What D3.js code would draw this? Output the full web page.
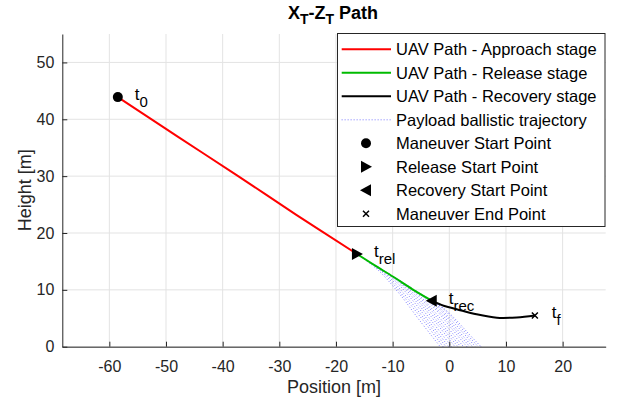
<!DOCTYPE html>
<html>
<head>
<meta charset="utf-8">
<script src="https://cdn.jsdelivr.net/npm/d3@7"></script>
<style>
	body { margin: 0; background: #fff; }
	svg { display: block; font-family: "Liberation Sans", Arial, Helvetica, sans-serif; }
</style>
</head>
<body>
<svg id="chart" width="625" height="406"></svg>
<script>
// path segments, [x, z] in metres
var approachPath = [[-58.5, 43.9], [-48, 37.0], [-37.4, 30.1], [-27, 23.2], [-16.3, 16.3]];
var releasePath = [[-16.3, 16.3], [-13, 14.2], [-9.9, 12.3], [-6.5, 10.1], [-3.1, 8.1]];
var recoveryPath = [[-3.1, 8.1], [-1, 7.2], [1.3, 6.6], [4.8, 5.7], [8.4, 5.1], [11.9, 5.15], [15.1, 5.5]];

// payload ballistic trajectories, one per release instant
var payloadPaths = [
	[[-16.3, 16.3], [-12.5, 13.4], [-8.8, 9.3], [-5.3, 4.7], [-1.6, 0]],
	[[-15.3, 15.7], [-11.6, 12.9], [-8.1, 8.9], [-4.6, 4.6], [-1.1, 0]],
	[[-14.4, 15.1], [-10.8, 12.4], [-7.4, 8.6], [-4.0, 4.4], [-0.6, 0]],
	[[-13.4, 14.5], [-9.9, 11.9], [-6.6, 8.3], [-3.4, 4.2], [-0.1, 0]],
	[[-12.5, 14.0], [-9.1, 11.5], [-5.9, 8.0], [-2.8, 4.1], [0.4, 0]],
	[[-11.5, 13.4], [-8.3, 11.0], [-5.1, 7.6], [-2.1, 3.9], [1.0, 0]],
	[[-10.6, 12.8], [-7.5, 10.5], [-4.4, 7.3], [-1.5, 3.7], [1.5, 0]],
	[[-9.6, 12.2], [-6.6, 10.0], [-3.7, 7.0], [-0.9, 3.5], [2.0, 0]],
	[[-8.7, 11.6], [-5.8, 9.5], [-3.0, 6.6], [-0.3, 3.4], [2.5, 0]],
	[[-7.7, 11.0], [-4.9, 9.0], [-2.2, 6.3], [0.4, 3.2], [3.1, 0]],
	[[-6.8, 10.4], [-4.1, 8.5], [-1.5, 5.9], [1.0, 3.0], [3.6, 0]],
	[[-5.8, 9.8], [-3.2, 8.0], [-0.8, 5.6], [1.6, 2.8], [4.1, 0]],
	[[-4.9, 9.2], [-2.4, 7.5], [-0.1, 5.2], [2.2, 2.7], [4.6, 0]],
	[[-4.0, 8.7], [-1.6, 7.1], [0.6, 5.0], [2.8, 2.5], [5.1, 0]],
	[[-3.1, 8.1], [-0.8, 6.6], [1.3, 4.6], [3.4, 2.3], [5.6, 0]]
];

var startPoint = [-58.5, 43.9];
var releasePoint = [-16.3, 16.3];
var recoveryPoint = [-3.1, 8.1];
var endPoint = [15.1, 5.5];

var pointLabels = [
	{main: 't', sub: '0', at: startPoint},
	{main: 't', sub: 'rel', at: releasePoint},
	{main: 't', sub: 'rec', at: recoveryPoint},
	{main: 't', sub: 'f', at: endPoint}
];

var xTicks = [-60, -50, -40, -30, -20, -10, 0, 10, 20];
var yTicks = [0, 10, 20, 30, 40, 50];
var xDomain = [-68.3, 27.6];
var yDomain = [0, 55];

var legendItems = [
	{label: 'UAV Path - Approach stage', kind: 'line', color: '#ff0000'},
	{label: 'UAV Path - Release stage', kind: 'line', color: '#00bb00'},
	{label: 'UAV Path - Recovery stage', kind: 'line', color: '#000000'},
	{label: 'Payload ballistic trajectory', kind: 'dots', color: '#3333ff'},
	{label: 'Maneuver Start Point', kind: 'circle'},
	{label: 'Release Start Point', kind: 'right'},
	{label: 'Recovery Start Point', kind: 'left'},
	{label: 'Maneuver End Point', kind: 'cross'}
];

var svg = d3.select('#chart');
var axisColor = '#262626';
var plot = {left: 62.3, right: 605.7, top: 34, bottom: 346.7};

var x = d3.scaleLinear().domain(xDomain).range([plot.left, plot.right]);
var y = d3.scaleLinear().domain(yDomain).range([plot.bottom, plot.top]);

// grid
var grid = svg.append('g').attr('stroke', '#e3e3e3').attr('stroke-width', 1);
grid.selectAll('.gx').data(xTicks).enter().append('line')
	.attr('x1', function(d) {return x(d)}).attr('x2', function(d) {return x(d)})
	.attr('y1', plot.top).attr('y2', plot.bottom);
grid.selectAll('.gy').data(yTicks).enter().append('line')
	.attr('y1', function(d) {return y(d)}).attr('y2', function(d) {return y(d)})
	.attr('x1', plot.left).attr('x2', plot.right);

var line = d3.line()
	.x(function(d) {return x(d[0])})
	.y(function(d) {return y(d[1])})
	.curve(d3.curveCatmullRom);

// payload trajectories
svg.append('g').selectAll('path').data(payloadPaths).enter().append('path')
	.attr('d', line)
	.attr('fill', 'none')
	.attr('stroke', '#3333ff')
	.attr('stroke-width', 0.8)
	.attr('stroke-dasharray', '0.8,2.2');

function drawPath(data, color) {
	svg.append('path').datum(data)
		.attr('d', line)
		.attr('fill', 'none')
		.attr('stroke', color)
		.attr('stroke-width', 2);
}
drawPath(approachPath, '#ff0000');
drawPath(releasePath, '#00bb00');
drawPath(recoveryPath, '#000000');

// markers
function marker(g, kind, cx, cy) {
	if (kind === 'circle') {
		g.append('circle').attr('cx', cx).attr('cy', cy).attr('r', 5).attr('fill', '#000');
	} else if (kind === 'right') {
		g.append('path').attr('d', 'M' + (cx - 5) + ',' + (cy - 6) + 'L' + (cx + 6) + ',' + cy + 'L' + (cx - 5) + ',' + (cy + 6) + 'Z').attr('fill', '#000');
	} else if (kind === 'left') {
		g.append('path').attr('d', 'M' + (cx + 5) + ',' + (cy - 6) + 'L' + (cx - 6) + ',' + cy + 'L' + (cx + 5) + ',' + (cy + 6) + 'Z').attr('fill', '#000');
	} else if (kind === 'cross') {
		g.append('path').attr('d', 'M' + (cx - 3) + ',' + (cy - 3) + 'L' + (cx + 3) + ',' + (cy + 3) + 'M' + (cx - 3) + ',' + (cy + 3) + 'L' + (cx + 3) + ',' + (cy - 3))
			.attr('stroke', '#000').attr('stroke-width', 1.5);
	}
}
var marks = svg.append('g');
marker(marks, 'circle', x(startPoint[0]), y(startPoint[1]));
marker(marks, 'right', x(releasePoint[0]), y(releasePoint[1]));
marker(marks, 'left', x(recoveryPoint[0]), y(recoveryPoint[1]));
marker(marks, 'cross', x(endPoint[0]), y(endPoint[1]));

// t labels
var lbl = svg.append('g').selectAll('text').data(pointLabels).enter().append('text')
	.attr('x', function(d) {return x(d.at[0] + 3)})
	.attr('y', function(d) {return y(d.at[1]) + 3})
	.attr('font-size', 17)
	.attr('fill', '#000');
lbl.append('tspan').text(function(d) {return d.main});
lbl.append('tspan').attr('dy', 7).attr('font-size', 15).text(function(d) {return d.sub});

// axes
var xAxis = svg.append('g')
	.attr('transform', 'translate(0,' + plot.bottom + ')')
	.call(d3.axisBottom(x).tickValues(xTicks).tickSize(-5).tickSizeOuter(0).tickPadding(14).tickFormat(function(d) {return String(d)}));
var yAxis = svg.append('g')
	.attr('transform', 'translate(' + plot.left + ',0)')
	.call(d3.axisLeft(y).tickValues(yTicks).tickSize(-5).tickSizeOuter(0).tickPadding(8).tickFormat(function(d) {return String(d)}));
[xAxis, yAxis].forEach(function(a) {
	a.attr('font-family', null).attr('font-size', 16);
	a.select('.domain').attr('stroke', axisColor);
	a.selectAll('.tick line').attr('stroke', axisColor);
	a.selectAll('.tick text').attr('fill', axisColor);
});

svg.append('text')
	.attr('x', (plot.left + plot.right) / 2).attr('y', 393)
	.attr('text-anchor', 'middle').attr('font-size', 18).attr('fill', axisColor)
	.text('Position [m]');
svg.append('text')
	.attr('transform', 'translate(31,' + ((plot.top + plot.bottom) / 2) + ') rotate(-90)')
	.attr('text-anchor', 'middle').attr('font-size', 18).attr('fill', axisColor)
	.text('Height [m]');

// title X_T-Z_T Path
var title = svg.append('text')
	.attr('x', 333).attr('y', 19)
	.attr('text-anchor', 'middle').attr('font-size', 18).attr('font-weight', 'bold').attr('fill', '#000');
title.append('tspan').text('X');
title.append('tspan').attr('dy', 5).attr('font-size', 14).text('T');
title.append('tspan').attr('dy', -5).text('-Z');
title.append('tspan').attr('dy', 5).attr('font-size', 14).text('T');
title.append('tspan').attr('dy', -5).text(' Path');

// legend
var legend = svg.append('g');
legend.append('rect')
	.attr('x', 337.5).attr('y', 33.5).attr('width', 267.5).attr('height', 193)
	.attr('fill', '#fff').attr('stroke', axisColor).attr('stroke-width', 1);
var rowY = function(i) {return 49.3 + i * 23.5};
legendItems.forEach(function(item, i) {
	var cy = rowY(i);
	if (item.kind === 'line') {
		legend.append('line').attr('x1', 341.7).attr('x2', 391).attr('y1', cy).attr('y2', cy)
			.attr('stroke', item.color).attr('stroke-width', 2);
	} else if (item.kind === 'dots') {
		legend.append('line').attr('x1', 341.7).attr('x2', 391).attr('y1', cy).attr('y2', cy)
			.attr('stroke', item.color).attr('stroke-width', 0.8).attr('stroke-dasharray', '0.8,2.2');
	} else {
		marker(legend, item.kind, 366, cy);
	}
	legend.append('text').attr('x', 396).attr('y', cy + 6)
		.attr('font-size', 16.5).attr('fill', '#000').text(item.label);
});
</script>
</body>
</html>
